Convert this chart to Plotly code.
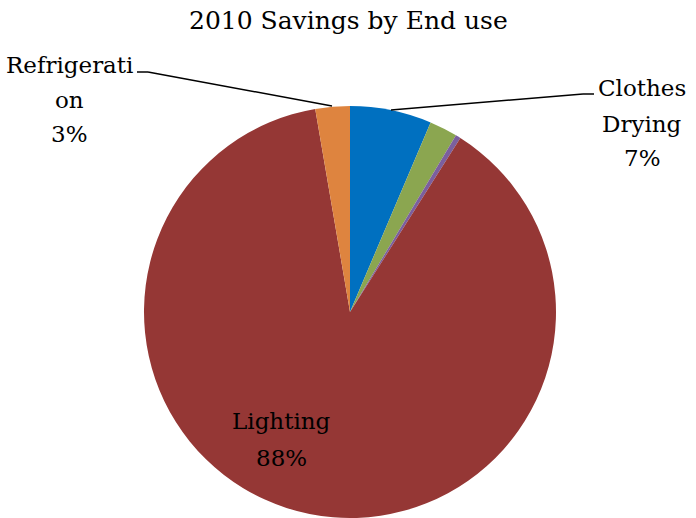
import plotly.graph_objects as go

# Data
end_uses = ["Clothes Drying", "Cooking", "Other", "Lighting", "Refrigeration"]
savings_pct = [6.4, 2.2, 0.4, 88.3, 2.7]
colors = ["#0070C0", "#8BA650", "#7B5F9E", "#953735", "#DE843F"]
shown_labels = [["Clothes", "Drying", "7%"], ["Refrigerati", "on", "3%"], ["Lighting", "88%"]]

W, H = 696, 518
FONT = "DejaVu Serif"


def px(x, y):
    return x / W, 1 - y / H


fig = go.Figure(
    go.Pie(
        labels=end_uses,
        values=savings_pct,
        marker=dict(colors=colors, line=dict(width=0)),
        sort=False,
        direction="clockwise",
        rotation=0,
        textinfo="none",
        hoverinfo="label+percent",
        domain=dict(x=[(350 - 206) / W, (350 + 206) / W], y=[(H - 312 - 206) / H, (H - 312 + 206) / H]),
        showlegend=False,
    )
)

# leader lines
lines = [
    [(391, 110), (583, 94), (594, 94)],
    [(332, 106), (148, 72), (137, 72)],
]
shapes = []
for pts in lines:
    for (x0, y0), (x1, y1) in zip(pts[:-1], pts[1:]):
        a0 = px(x0, y0)
        a1 = px(x1, y1)
        shapes.append(dict(type="line", xref="paper", yref="paper", x0=a0[0], y0=a0[1], x1=a1[0], y1=a1[1],
                           line=dict(color="black", width=1.5)))

label_pos = [(642, [88, 124, 158]), (69, [65, 100, 134]), (281, [421, 458])]
annotations = []
for txt_lines, (x, ys) in zip(shown_labels, label_pos):
    for txt, y in zip(txt_lines, ys):
        ax_, ay_ = px(x, y)
        annotations.append(dict(text=txt, x=ax_, y=ay_, xref="paper", yref="paper", showarrow=False,
                                xanchor="center", yanchor="middle", align="center",
                                font=dict(family=FONT, size=23, color="black")))

tx, ty = px(348, 20)
annotations.append(dict(text="2010 Savings by End use", x=tx, y=ty, xref="paper", yref="paper",
                        showarrow=False, xanchor="center", yanchor="middle",
                        font=dict(family=FONT, size=25, color="black")))

fig.update_layout(
    width=W,
    height=H,
    margin=dict(l=0, r=0, t=0, b=0),
    paper_bgcolor="white",
    plot_bgcolor="white",
    shapes=shapes,
    annotations=annotations,
    font=dict(family=FONT),
)

fig.write_html("out.html", config={"displayModeBar": False},
               post_script="document.body.style.margin='0';document.body.style.overflow='hidden';")
